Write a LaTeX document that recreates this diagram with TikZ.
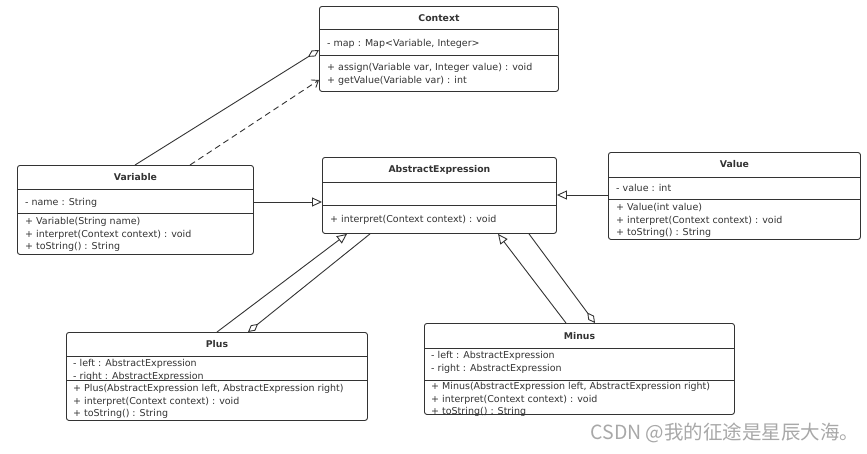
\documentclass[tikz,border=0pt]{standalone}
\usepackage{fontspec}
\setmainfont{DejaVu Sans}
\newfontfamily\cjkfont{Noto Sans CJK SC}
\usetikzlibrary{arrows.meta}

\definecolor{umlgray}{HTML}{333333}
\definecolor{markgray}{HTML}{A8A8A8}

\tikzset{
	classbox/.style={draw=umlgray, line width=0.9pt, rounded corners=2.5pt, anchor=north west, inner sep=0pt},
	sepline/.style={draw=umlgray, line width=0.9pt},
	ctitle/.style={font=\fontsize{9.3}{10}\selectfont\bfseries, text=umlgray, inner sep=0pt},
	members/.style={font=\fontsize{9.5}{12.6}\selectfont, text=umlgray, align=left, anchor=north west, inner sep=0pt},
	link/.style={draw=umlgray, line width=0.9pt},
	inherit/.style={link, -{Triangle[open, length=10pt, width=9pt]}},
	aggr/.style={link, -{Diamond[open, length=13pt, width=7pt]}},
	depend/.style={link, dashed, dash pattern=on 6pt off 4pt, -{Straight Barb[length=6pt, width=9pt]}}
}

\begin{document}
\begin{tikzpicture}[x=1pt, y=-1pt]
	\useasboundingbox (0,0) rectangle (867,453);
	%Context
	\node[classbox, minimum width=239pt, minimum height=85pt](ctx) at (319,6) {};
	\draw[sepline] ([yshift=-23pt]ctx.north west) -- ([yshift=-23pt]ctx.north east);
	\draw[sepline] ([yshift=-49pt]ctx.north west) -- ([yshift=-49pt]ctx.north east);
	\node[ctitle](ctxname) at ([yshift=-12pt]ctx.north) {Context};
	\node[members](ctxattr) at ([xshift=8pt, yshift=-33pt]ctx.north west) {- map : Map<Variable, Integer>};
	\node[members](ctxops) at ([xshift=8pt, yshift=-57pt]ctx.north west) {+ assign(Variable var, Integer value) : void\\+ getValue(Variable var) : int};
	%Variable
	\node[classbox, minimum width=236pt, minimum height=89pt](var) at (17,165) {};
	\draw[sepline] ([yshift=-24pt]var.north west) -- ([yshift=-24pt]var.north east);
	\draw[sepline] ([yshift=-48pt]var.north west) -- ([yshift=-48pt]var.north east);
	\node[ctitle](varname) at ([yshift=-12pt]var.north) {Variable};
	\node[members](varattr) at ([xshift=8pt, yshift=-33pt]var.north west) {- name : String};
	\node[members](varops) at ([xshift=8pt, yshift=-52pt]var.north west) {+ Variable(String name)\\+ interpret(Context context) : void\\+ toString() : String};
	%AbstractExpression
	\node[classbox, minimum width=234pt, minimum height=76pt](ae) at (322,157) {};
	\draw[sepline] ([yshift=-25pt]ae.north west) -- ([yshift=-25pt]ae.north east);
	\draw[sepline] ([yshift=-48pt]ae.north west) -- ([yshift=-48pt]ae.north east);
	\node[ctitle](aename) at ([yshift=-13pt]ae.north) {AbstractExpression};
	\node[members](aeops) at ([xshift=8pt, yshift=-58pt]ae.north west) {+ interpret(Context context) : void};
	%Value
	\node[classbox, minimum width=252pt, minimum height=87pt](val) at (608,152) {};
	\draw[sepline] ([yshift=-25pt]val.north west) -- ([yshift=-25pt]val.north east);
	\draw[sepline] ([yshift=-47pt]val.north west) -- ([yshift=-47pt]val.north east);
	\node[ctitle](valname) at ([yshift=-12pt]val.north) {Value};
	\node[members](valattr) at ([xshift=8pt, yshift=-32pt]val.north west) {- value : int};
	\node[members](valops) at ([xshift=8pt, yshift=-51pt]val.north west) {+ Value(int value)\\+ interpret(Context context) : void\\+ toString() : String};
	%Plus
	\node[classbox, minimum width=301pt, minimum height=88pt](plus) at (66,332) {};
	\draw[sepline] ([yshift=-24pt]plus.north west) -- ([yshift=-24pt]plus.north east);
	\draw[sepline] ([yshift=-48pt]plus.north west) -- ([yshift=-48pt]plus.north east);
	\node[ctitle](plusname) at ([yshift=-12pt]plus.north) {Plus};
	\node[members](plusattr) at ([xshift=7pt, yshift=-27pt]plus.north west) {- left : AbstractExpression\\- right : AbstractExpression};
	\node[members](plusops) at ([xshift=7pt, yshift=-52pt]plus.north west) {+ Plus(AbstractExpression left, AbstractExpression right)\\+ interpret(Context context) : void\\+ toString() : String};
	%Minus
	\node[classbox, minimum width=310pt, minimum height=91pt](minus) at (424,323) {};
	\draw[sepline] ([yshift=-25pt]minus.north west) -- ([yshift=-25pt]minus.north east);
	\draw[sepline] ([yshift=-57pt]minus.north west) -- ([yshift=-57pt]minus.north east);
	\node[ctitle](minusname) at ([yshift=-13pt]minus.north) {Minus};
	\node[members](minusattr) at ([xshift=7pt, yshift=-28pt]minus.north west) {- left : AbstractExpression\\- right : AbstractExpression};
	\node[members](minusops) at ([xshift=7pt, yshift=-59pt]minus.north west) {+ Minus(AbstractExpression left, AbstractExpression right)\\+ interpret(Context context) : void\\+ toString() : String};
	%Connectors
	\draw[aggr] ([xshift=118pt]var.north west) -- ([yshift=-44pt]ctx.north west);
	\draw[depend] ([xshift=173pt]var.north west) -- ([yshift=-74pt]ctx.north west);
	\draw[inherit] ([yshift=-37pt]var.north east) -- ([yshift=-45pt]ae.north west);
	\draw[inherit] ([yshift=-43pt]val.north west) -- ([yshift=-38pt]ae.north east);
	\draw[inherit] ([xshift=151pt]plus.north west) -- ([xshift=25pt]ae.south west);
	\draw[aggr] ([xshift=48pt]ae.south west) -- ([xshift=182pt]plus.north west);
	\draw[inherit] ([xshift=142pt]minus.north west) -- ([xshift=176pt]ae.south west);
	\draw[aggr] ([xshift=207pt]ae.south west) -- ([xshift=171pt]minus.north west);
	%Watermark
	\node[text=markgray, font=\cjkfont\fontsize{19.5}{21}\selectfont, inner sep=0pt](mark) at (725,433) {CSDN @我的征途是星辰大海。};
\end{tikzpicture}
\end{document}
